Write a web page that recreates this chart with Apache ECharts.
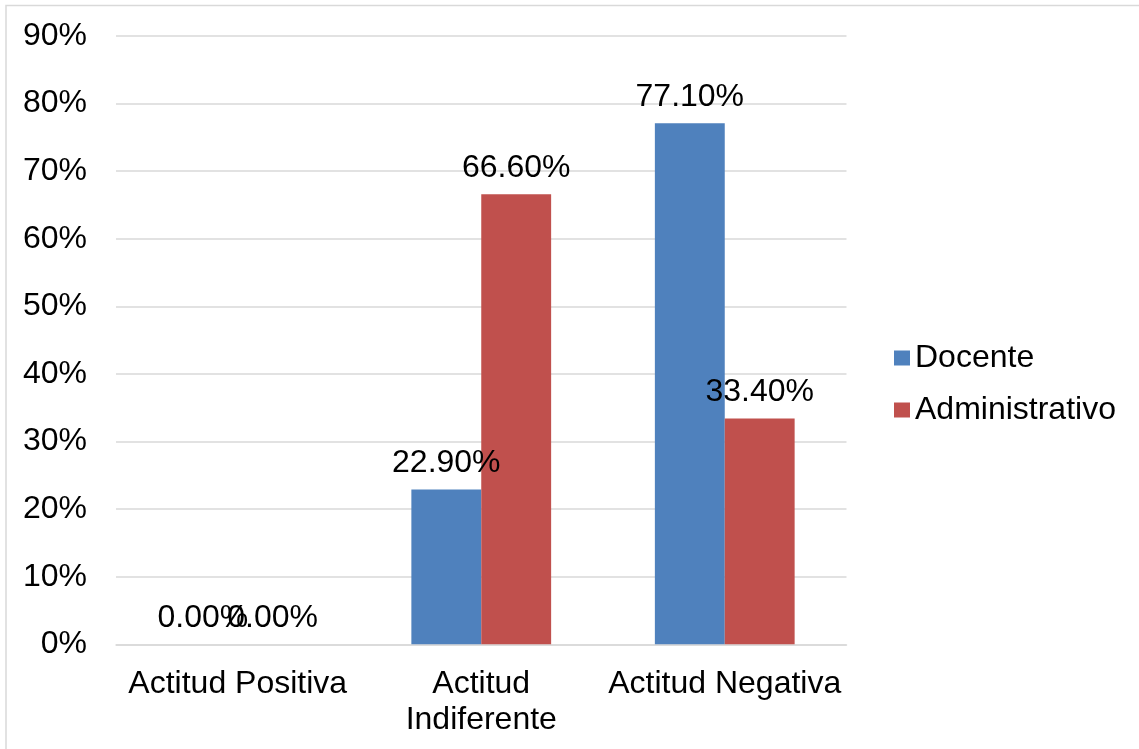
<!DOCTYPE html>
<html>
<head>
<meta charset="utf-8">
<title>Actitud</title>
<script src="https://cdn.jsdelivr.net/npm/echarts@6/dist/echarts.min.js"></script>
<style>
  html, body { margin: 0; padding: 0; background: #ffffff; }
  #chart { width: 1139px; height: 749px; }
</style>
</head>
<body>
<div id="chart"></div>
<script>
// Categories and values (percent)
const categories = ['Actitud Positiva', 'Actitud\nIndiferente', 'Actitud Negativa'];
const docente = [0.0, 22.9, 77.1];
const administrativo = [0.0, 66.6, 33.4];
const seriesNames = ['Docente', 'Administrativo'];

const FONT = '"Liberation Sans", Arial, sans-serif';
const FS = 32;
const labelStyle = {
  show: true,
  position: 'top',
  distance: 10,
  color: '#000000',
  fontFamily: FONT,
  fontSize: FS,
  formatter: p => p.value.toFixed(2) + '%'
};

const chart = echarts.init(document.getElementById('chart'), null, { renderer: 'canvas' });
chart.setOption({
  backgroundColor: '#ffffff',
  animation: false,
  textStyle: { fontFamily: FONT },
  graphic: [{
    type: 'rect',
    shape: { x: 6, y: 5.5, width: 2000, height: 2000 },
    style: { fill: 'none', stroke: '#d9d9d9', lineWidth: 1.5 },
    silent: true
  }],
  grid: { left: 116, right: 292.5, top: 36, bottom: 104.7, containLabel: false },
  legend: {
    orient: 'vertical',
    left: 889,
    top: 337,
    itemWidth: 16,
    itemHeight: 15,
    itemGap: 20,
    icon: 'rect',
    data: seriesNames,
    textStyle: { fontFamily: FONT, fontSize: FS, color: '#000000', padding: [0, 0, 0, 0], lineHeight: 32 }
  },
  xAxis: {
    type: 'category',
    data: categories,
    axisLine: { show: true, lineStyle: { color: '#d9d9d9', width: 1.5 } },
    axisTick: { show: false },
    axisLabel: {
      interval: 0,
      margin: 22,
      color: '#000000',
      fontFamily: FONT,
      fontSize: FS,
      lineHeight: 36
    }
  },
  yAxis: {
    type: 'value',
    min: 0,
    max: 90,
    interval: 10,
    axisLine: { show: false },
    axisTick: { show: false },
    splitLine: { lineStyle: { color: '#d9d9d9', width: 1.5 } },
    axisLabel: {
      margin: 29,
      color: '#000000',
      fontFamily: FONT,
      fontSize: FS,
      formatter: v => v + '%'
    }
  },
  series: [
    {
      name: seriesNames[0],
      type: 'bar',
      data: docente,
      itemStyle: { color: '#4F81BD' },
      barGap: '0%',
      barCategoryGap: '42.6%',
      label: labelStyle,
      z: 2
    },
    {
      name: seriesNames[1],
      type: 'bar',
      data: administrativo,
      itemStyle: { color: '#C0504D' },
      barGap: '0%',
      barCategoryGap: '42.6%',
      label: labelStyle,
      z: 2
    }
  ]
});
</script>
</body>
</html>
